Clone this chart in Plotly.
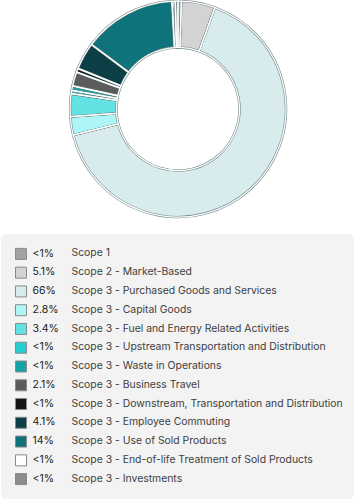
import plotly.graph_objects as go

labels = [
    "Scope 1",
    "Scope 2 - Market-Based",
    "Scope 3 - Purchased Goods and Services",
    "Scope 3 - Capital Goods",
    "Scope 3 - Fuel and Energy Related Activities",
    "Scope 3 - Upstream Transportation and Distribution",
    "Scope 3 - Waste in Operations",
    "Scope 3 - Business Travel",
    "Scope 3 - Downstream, Transportation and Distribution",
    "Scope 3 - Employee Commuting",
    "Scope 3 - Use of Sold Products",
    "Scope 3 - End-of-life Treatment of Sold Products",
    "Scope 3 - Investments",
]
values = [0.5, 5.1, 66, 2.8, 3.4, 0.5, 0.7, 2.1, 0.6, 4.1, 14, 0.5, 0.4]
pct_labels = ["<1%", "5.1%", "66%", "2.8%", "3.4%", "<1%", "<1%", "2.1%",
              "<1%", "4.1%", "14%", "<1%", "<1%"]
colors = ["#a3a3a3", "#d3d3d3", "#d8ecee", "#aef6f6", "#62e2e3", "#25cfcf",
          "#17a3a5", "#5c5c5c", "#141414", "#0b3f45", "#0e737a", "#ffffff",
          "#8c8c8c"]

W, H = 357, 500
pie_domain = dict(x=[70 / W, 286 / W], y=[1 - 217 / H, 1 - 1 / H])

fig = go.Figure()
# base pie with gray outline
fig.add_trace(go.Pie(
    labels=labels, values=values, sort=False, direction="clockwise",
    rotation=0, hole=0.57, textinfo="none", hoverinfo="label+percent",
    marker=dict(colors=colors, line=dict(color="#6f8587", width=2.4)),
    domain=pie_domain, showlegend=False,
))
# overlay pie drawing white gaps between slices
fig.add_trace(go.Pie(
    labels=labels, values=values, sort=False, direction="clockwise",
    rotation=0, hole=0.57, textinfo="none", hoverinfo="skip",
    marker=dict(colors=["rgba(0,0,0,0)"] * len(values),
                line=dict(color="#ffffff", width=1.3)),
    domain=pie_domain, showlegend=False,
))

rows = list(range(len(labels)))
font_family = "Inter, Roboto, sans-serif"

fig.add_trace(go.Scatter(
    x=[21] * len(rows), y=rows, mode="markers",
    marker=dict(symbol="square", size=11, color=colors,
                line=dict(color="#8a8a8a", width=1)),
    xaxis="x", yaxis="y", showlegend=False, hoverinfo="skip",
))
fig.add_trace(go.Scatter(
    x=[32.5] * len(rows), y=rows, mode="text", text=pct_labels,
    textposition="middle right",
    textfont=dict(family=font_family, size=10.5, color="#222222"),
    xaxis="x", yaxis="y", showlegend=False, hoverinfo="skip",
))
fig.add_trace(go.Scatter(
    x=[71.5] * len(rows), y=rows, mode="text", text=labels,
    textposition="middle right",
    textfont=dict(family=font_family, size=10.4, color="#404040"),
    xaxis="x", yaxis="y", showlegend=False, hoverinfo="skip",
))

# rounded legend background box (paper coords)
x0, x1 = 1 / W, 354 / W
y1, y0 = 1 - 234 / H, 1 - 499 / H
rx, ry = 5 / W, 5 / H
box_path = (
    f"M {x0+rx},{y1} L {x1-rx},{y1} Q {x1},{y1} {x1},{y1-ry} "
    f"L {x1},{y0+ry} Q {x1},{y0} {x1-rx},{y0} L {x0+rx},{y0} "
    f"Q {x0},{y0} {x0},{y0+ry} L {x0},{y1-ry} Q {x0},{y1} {x0+rx},{y1} Z"
)

fig.update_layout(
    width=W, height=H,
    margin=dict(l=0, r=0, t=0, b=0),
    paper_bgcolor="#ffffff", plot_bgcolor="rgba(0,0,0,0)",
    shapes=[dict(type="path", xref="paper", yref="paper", path=box_path,
                 fillcolor="#f3f3f3", line=dict(width=0), layer="below")],
    xaxis=dict(domain=[0, 1], range=[0, W], visible=False, fixedrange=True),
    yaxis=dict(domain=[1 - 488.5 / H, 1 - 244.5 / H], range=[12.5, -0.5],
               visible=False, fixedrange=True),
    font=dict(family=font_family),
)

fig.write_html(
    "out.html",
    config={"displayModeBar": False},
    post_script="document.body.style.margin='0';",
)
